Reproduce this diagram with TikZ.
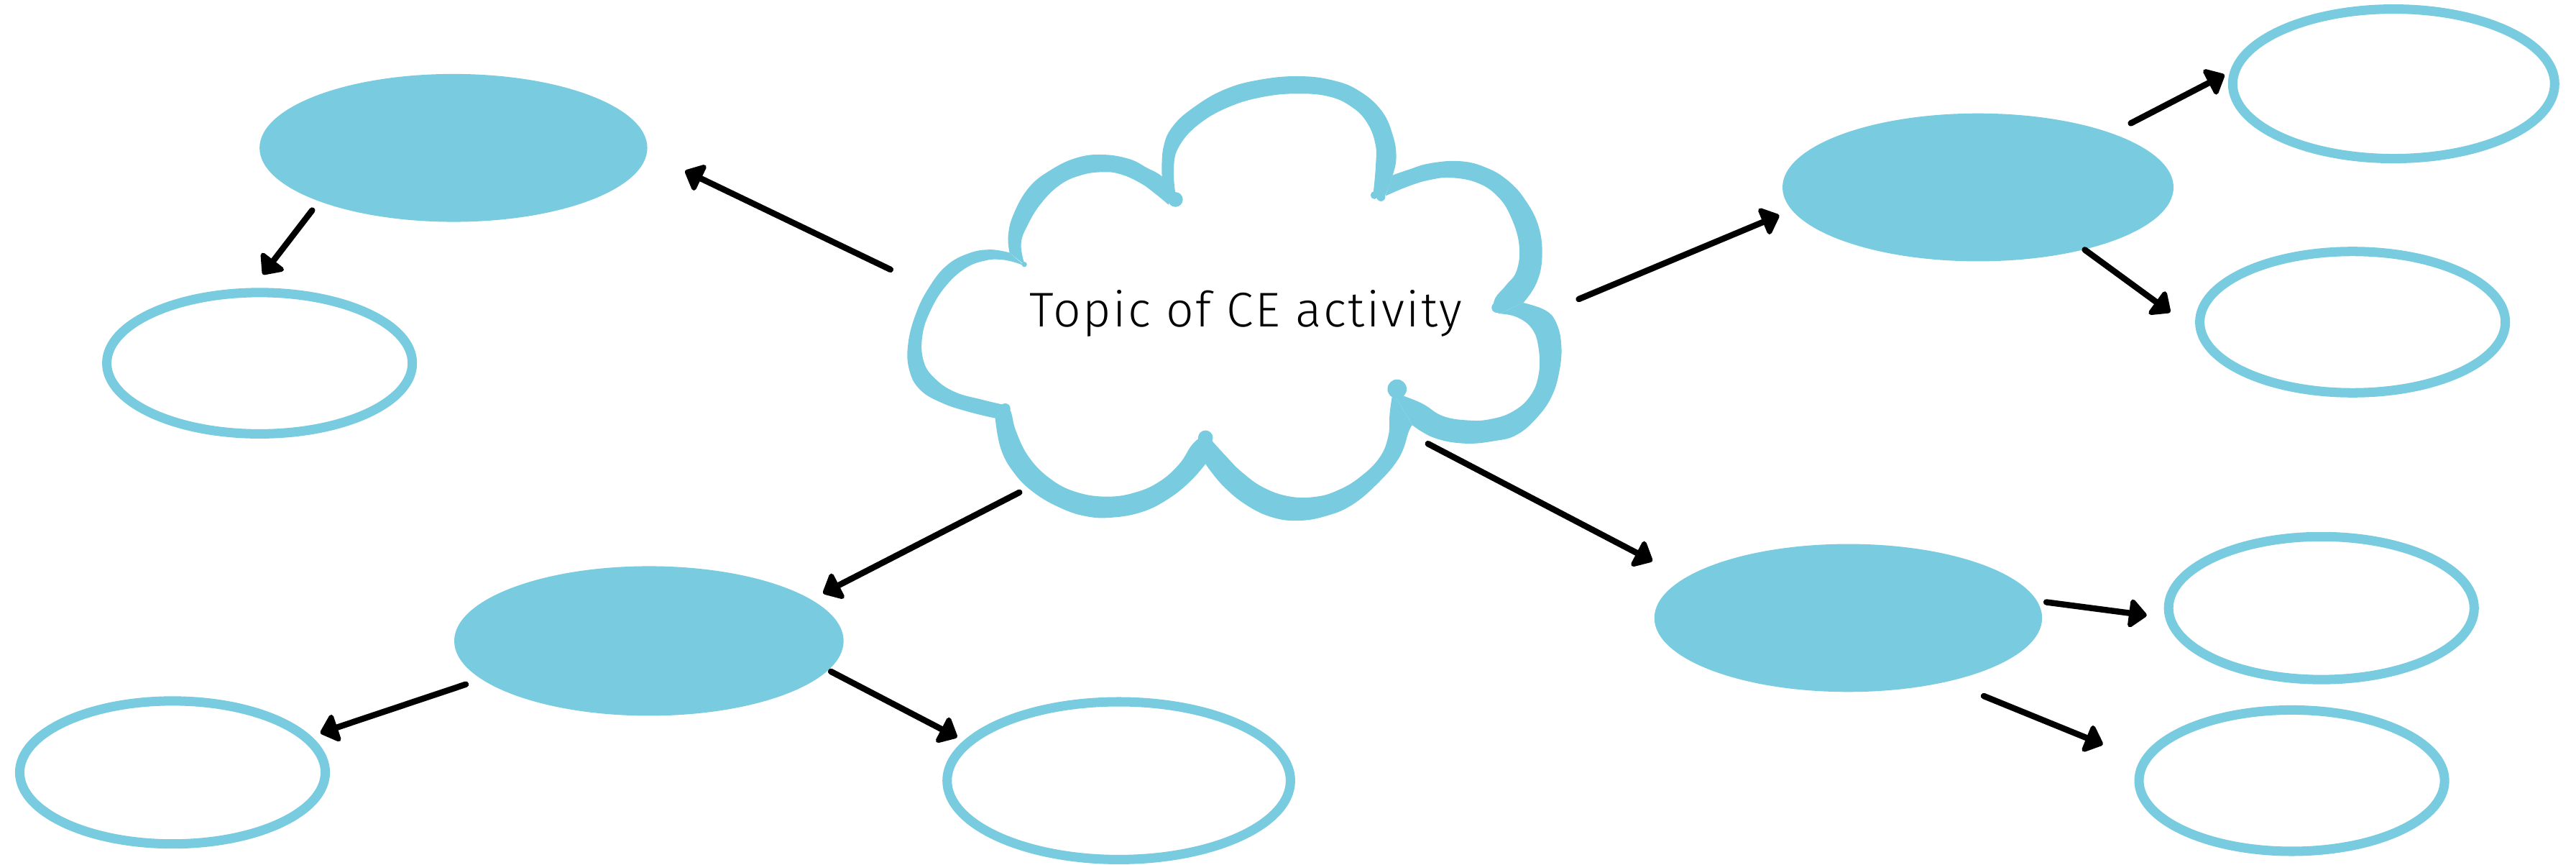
\documentclass[tikz,border=0pt]{standalone}
\usepackage{fontspec}
\usetikzlibrary{arrows.meta,shapes.geometric}
\IfFontExistsTF{Fira Sans Light}
  {\newfontfamily\topicfont{Fira Sans Light}[LetterSpace=3.7]}
  {\IfFontExistsTF{Open Sans Light}
    {\newfontfamily\topicfont{Open Sans Light}[LetterSpace=3.7]}
    {\IfFontExistsTF{Lato Light}
      {\newfontfamily\topicfont{Lato Light}[LetterSpace=3.7]}
      {\newfontfamily\topicfont{Fira Sans}[LetterSpace=3.7]}}}
\definecolor{skyfill}{RGB}{121,204,224}

\tikzset{
  hub/.style={ellipse, fill=skyfill, draw=none, inner sep=0pt, outer sep=0pt},
  leaf/.style={ellipse, draw=skyfill, line width=2.85mm, fill=white, inner sep=0pt, outer sep=0pt},
  link/.style={line width=1.85mm, line cap=round, line join=round,
    -{Triangle[length=5.8mm,width=10mm,round]}},
  lobe/.style={fill=skyfill},
  brush/.style={smooth, tension=0.7},
}

\begin{document}
\begin{tikzpicture}[x=0.5mm,y=-0.5mm]
\useasboundingbox (0,0) rectangle (1568,526);

% ---------- cloud outline: one tapered crescent per lobe, on a local grid ----------
\begin{scope}[shift={(546.9,0)}, scale=0.26506]
  % top lobe
  \fill[lobe] plot[brush] coordinates {(605,405) (608,340) (630,290) (680,245) (750,205) (830,183) (920,175) (1000,185) (1060,210) (1110,255) (1135,310) (1143,360) (1135,402) (1118,448)}
    -- plot[brush] coordinates {(1090,446) (1096,380) (1095,330) (1075,280) (1040,245) (990,222) (920,215) (840,222) (760,245) (690,285) (645,335) (632,385) (636,445)} -- cycle;
  % upper left lobe
  \fill[lobe] plot[brush] coordinates {(255,580) (252,540) (265,490) (300,430) (350,390) (410,362) (470,355) (530,365) (570,385) (605,405) (635,440)}
    -- plot[brush] coordinates {(620,470) (590,445) (555,420) (510,400) (470,395) (420,402) (370,425) (325,470) (295,520) (282,555) (285,590) (292,610)} -- cycle;
  % left lobe
  \fill[lobe] plot[brush] coordinates {(255,580) (210,573) (160,582) (110,610) (70,660) (40,720) (22,790) (25,850) (50,895) (100,925) (160,945) (222,960)}
    -- plot[brush] coordinates {(245,930) (190,917) (130,900) (85,870) (58,830) (55,770) (75,710) (110,655) (155,615) (200,598) (235,596) (270,603) (292,612)} -- cycle;
  % lower left lobe
  \fill[lobe] plot[brush] coordinates {(222,960) (235,1030) (265,1085) (310,1130) (370,1165) (430,1185) (490,1188) (560,1175) (620,1145) (670,1105) (705,1065)}
    -- plot[brush] coordinates {(705,995) (675,1020) (645,1065) (600,1105) (545,1130) (480,1140) (410,1130) (350,1100) (300,1050) (270,990) (258,945) (245,930)} -- cycle;
  % lower right lobe
  \fill[lobe] plot[brush] coordinates {(705,1065) (745,1115) (800,1160) (860,1188) (920,1195) (980,1185) (1040,1160) (1100,1110) (1150,1050) (1172,990) (1180,976)}
    -- plot[brush] coordinates {(1135,900) (1128,950) (1125,1000) (1105,1050) (1060,1095) (1010,1125) (960,1140) (900,1140) (840,1120) (790,1085) (750,1045) (705,995)} -- cycle;
  % right lobe
  \fill[lobe] plot[brush] coordinates {(1180,976) (1230,1005) (1300,1018) (1370,1012) (1420,998) (1465,960) (1500,910) (1518,850) (1522,790) (1510,740) (1485,712) (1435,695)}
    -- plot[brush] coordinates {(1380,720) (1420,728) (1455,755) (1470,800) (1470,860) (1450,910) (1410,945) (1360,962) (1310,965) (1250,955) (1200,925) (1135,900)} -- cycle;
  % upper right lobe
  \fill[lobe] plot[brush] coordinates {(1435,695) (1465,650) (1478,590) (1470,520) (1440,460) (1400,415) (1350,385) (1290,370) (1220,375) (1170,390) (1135,402)}
    -- plot[brush] coordinates {(1118,450) (1170,428) (1220,413) (1270,408) (1330,420) (1375,450) (1405,495) (1425,560) (1420,620) (1395,655) (1370,685) (1368,710) (1380,720)} -- cycle;
  % rounded ends where the lobes meet
  \fill[lobe] (636,458) circle[radius=17];
  \fill[lobe] (1093,448) circle[radius=9];
  \fill[lobe] (1108,452) circle[radius=10];
  \fill[lobe] (1374,706) circle[radius=12];
  \fill[lobe] (1145,893) circle[radius=22];
  \fill[lobe] (705,1005) circle[radius=17];
  \fill[lobe] (245,938) circle[radius=12];
  \fill[lobe] (289,607) circle[radius=6];
\end{scope}

\node[font=\topicfont\fontsize{42.2}{50}\selectfont, anchor=base, inner sep=0pt] (topic) at (758.5,199) {Topic of CE activity};

% ---------- filled ellipses ----------
\node[hub, minimum width=118mm, minimum height=45mm] (A) at (276,90) {};
\node[hub, minimum width=119mm, minimum height=45mm] (B) at (1204,114) {};
\node[hub, minimum width=118.5mm, minimum height=45.5mm] (C) at (395,390) {};
\node[hub, minimum width=118mm, minimum height=45mm] (D) at (1125,376) {};

% ---------- outlined ellipses ----------
\node[leaf, minimum width=93mm, minimum height=43mm] (a1) at (158,221) {};
\node[leaf, minimum width=98mm, minimum height=45.5mm] (b1) at (1457,51) {};
\node[leaf, minimum width=93mm, minimum height=43mm] (b2) at (1432,196) {};
\node[leaf, minimum width=93mm, minimum height=43.5mm] (c1) at (105,470) {};
\node[leaf, minimum width=104.5mm, minimum height=48mm] (c2) at (681,475) {};
\node[leaf, minimum width=93mm, minimum height=43.5mm] (d1) at (1413,370) {};
\node[leaf, minimum width=93mm, minimum height=43mm] (d2) at (1395,475) {};

% ---------- connector ends ----------
\coordinate (topic-A) at (542,164);
\coordinate (topic-B) at (961,182);
\coordinate (topic-C) at (620.5,299.6);
\coordinate (topic-D) at (869.2,270);
\coordinate (A-in) at (417,104);
\coordinate (B-in) at (1083,131);
\coordinate (C-in) at (501,361);
\coordinate (D-in) at (1005.8,341.4);
\coordinate (A-out) at (190,128);
\coordinate (a1-in) at (160,167);
\coordinate (B-out1) at (1297,75);
\coordinate (b1-in) at (1354,45.5);
\coordinate (B-out2) at (1269,152);
\coordinate (b2-in) at (1321,190);
\coordinate (C-out1) at (283.5,416.4);
\coordinate (c1-in) at (195,446);
\coordinate (C-out2) at (505.8,408.6);
\coordinate (c2-in) at (582.6,448.6);
\coordinate (D-out1) at (1245.6,366.4);
\coordinate (d1-in) at (1306.7,374.4);
\coordinate (D-out2) at (1207.5,423.5);
\coordinate (d2-in) at (1280,453);

% ---------- connectors ----------
\draw[link] (topic-A) -- (A-in);
\draw[link] (topic-B) -- (B-in);
\draw[link] (topic-C) -- (C-in);
\draw[link] (topic-D) -- (D-in);
\draw[link] (A-out) -- (a1-in);
\draw[link] (B-out1) -- (b1-in);
\draw[link] (B-out2) -- (b2-in);
\draw[link] (C-out1) -- (c1-in);
\draw[link] (C-out2) -- (c2-in);
\draw[link] (D-out1) -- (d1-in);
\draw[link] (D-out2) -- (d2-in);
\end{tikzpicture}
\end{document}
